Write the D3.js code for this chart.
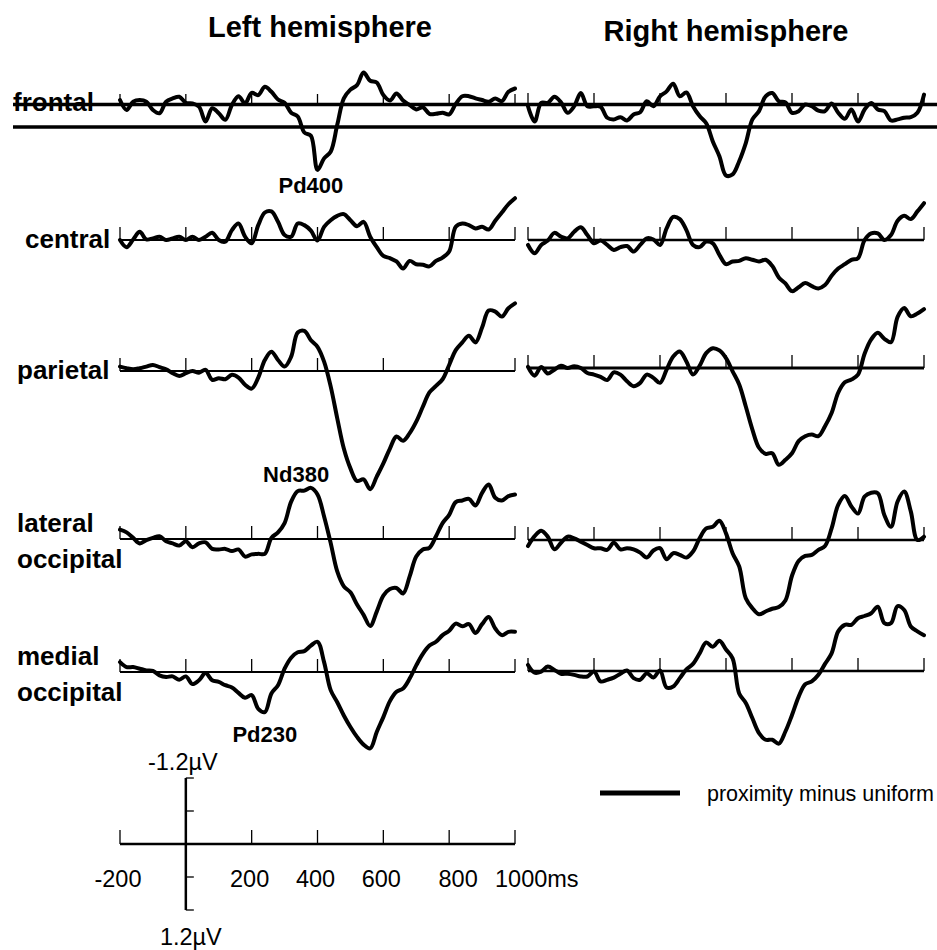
<!DOCTYPE html>
<html>
<head>
<meta charset="utf-8">
<script src="https://cdn.jsdelivr.net/npm/d3@7"></script>
<style>
  body { margin: 0; background: #fff; }
  svg { display: block; font-family: "Liberation Sans", Arial, sans-serif; }
</style>
</head>
<body>
<svg id="chart" width="937" height="950"></svg>
<script>
/* ERP difference waves, proximity minus uniform, two hemispheres x five sites */
"use strict";

// sample times (ms), one value every 20 ms
const TIMES = d3.range(-200, 1001, 20);

const HEMISPHERES = ["Left hemisphere", "Right hemisphere"];
const REGIONS = [["frontal"], ["central"], ["parietal"], ["lateral", "occipital"], ["medial", "occipital"]];

// amplitudes in µV (negative plotted up)
const LEFT_FRONTAL = [
  -0.09, 0.09, -0.06, -0.09, -0.06, 0.09, 0.15, -0.06, -0.12, -0.15,
  -0.04, -0.03, 0.03, 0.30, 0.06, 0.15, 0.27, 0, -0.16, -0.03,
  -0.22, -0.18, -0.33, -0.24, -0.10, -0.04, 0.14, 0.21, 0.50, 0.56,
  1.18, 0.97, 0.85, 0.36, -0.12, -0.28, -0.36, -0.59, -0.44, -0.41,
  -0.18, -0.08, -0.21, -0.08, 0, 0.08, 0.04, 0.16, 0.16, 0.14,
  0.17, -0.02, -0.16, -0.16, -0.12, -0.09, -0.06, -0.12, -0.07, -0.24,
  -0.30];
const RIGHT_FRONTAL = [
  0.04, 0.32, -0.02, -0.02, -0.13, -0.03, 0.16, 0.04, -0.20, 0.04,
  0.04, 0.05, 0.25, 0.28, 0.24, 0.30, 0.19, 0.15, -0.05, 0.04,
  -0.14, -0.23, -0.37, -0.14, -0.21, 0.04, 0.22, 0.35, 0.68, 0.95,
  1.30, 1.28, 1.04, 0.71, 0.28, 0.13, -0.14, -0.20, -0.05, -0.03,
  0.16, 0.13, 0.01, 0.04, 0.12, 0.13, -0.01, 0.16, 0.27, 0.10,
  0.32, 0.10, -0.02, 0.10, 0.13, 0.30, 0.28, 0.25, 0.24, 0.16,
  -0.17];
const LEFT_CENTRAL = [
  0, 0.13, -0.01, -0.15, -0.01, -0.03, -0.06, 0, -0.03, -0.06,
  0, -0.06, 0, -0.06, -0.13, 0, 0.03, -0.18, -0.30, -0.06,
  0.06, -0.27, -0.50, -0.52, -0.33, -0.09, -0.06, -0.30, -0.27, -0.17,
  0.01, -0.24, -0.36, -0.44, -0.47, -0.36, -0.25, -0.33, -0.06, 0.13,
  0.29, 0.33, 0.39, 0.52, 0.38, 0.44, 0.45, 0.48, 0.38, 0.32,
  0.21, -0.24, -0.30, -0.27, -0.21, -0.24, -0.19, -0.35, -0.50, -0.65,
  -0.76];
const RIGHT_CENTRAL = [
  0.09, 0.24, 0.09, 0.01, -0.13, -0.06, -0.03, -0.15, -0.23, -0.09,
  0.06, 0.01, 0.09, 0.18, 0.13, 0.11, 0.21, 0.09, -0.03, -0.01,
  0.09, -0.21, -0.42, -0.38, -0.18, 0.09, 0.13, 0.03, 0.06, 0.27,
  0.44, 0.39, 0.38, 0.33, 0.36, 0.39, 0.36, 0.47, 0.68, 0.79,
  0.93, 0.86, 0.78, 0.84, 0.88, 0.82, 0.65, 0.52, 0.44, 0.36,
  0.33, 0, -0.12, -0.12, 0, -0.09, -0.35, -0.44, -0.38, -0.52,
  -0.67];
const LEFT_PARIETAL = [
  -0.08, -0.05, -0.03, -0.05, -0.08, -0.11, -0.07, -0.03, 0.04, 0.09,
  0.04, 0, 0.03, -0.02, 0.16, 0.13, 0.15, 0.07, 0.12, 0.25,
  0.32, 0.12, -0.20, -0.35, -0.20, -0.08, -0.26, -0.70, -0.73, -0.56,
  -0.44, -0.17, 0.28, 0.86, 1.41, 1.77, 2.00, 1.97, 2.15, 1.92,
  1.68, 1.41, 1.19, 1.27, 1.13, 0.92, 0.65, 0.39, 0.27, 0.15,
  -0.11, -0.38, -0.52, -0.64, -0.52, -0.79, -1.10, -1.08, -0.99, -1.14,
  -1.23];
const RIGHT_PARIETAL = [
  -0.02, 0.14, -0.02, 0.10, 0.03, -0.04, 0, -0.03, 0, 0.09,
  0.12, 0.16, 0.22, 0.08, 0.12, 0.24, 0.33, 0.27, 0.12, 0.18,
  0.27, 0.03, -0.21, -0.30, -0.12, 0.12, -0.04, -0.27, -0.36, -0.32,
  -0.18, 0.06, 0.30, 0.70, 1.12, 1.45, 1.56, 1.55, 1.76, 1.67,
  1.55, 1.33, 1.24, 1.21, 1.24, 1.06, 0.82, 0.45, 0.26, 0.21,
  0.12, -0.26, -0.52, -0.64, -0.53, -0.47, -0.93, -1.09, -0.94, -0.99,
  -1.07];
const LEFT_LATERAL_OCC = [
  -0.17, -0.12, -0.02, 0.08, 0.02, -0.02, -0.05, 0.04, 0.08, 0.12,
  0.04, 0.15, 0.08, 0.06, 0.18, 0.19, 0.18, 0.22, 0.19, 0.32,
  0.28, 0.27, 0.27, -0.02, -0.12, -0.29, -0.68, -0.87, -0.88, -0.93,
  -0.81, -0.41, 0.07, 0.59, 0.86, 0.97, 1.19, 1.38, 1.58, 1.32,
  1.03, 0.91, 0.89, 0.99, 0.68, 0.32, 0.19, 0.16, -0.05, -0.29,
  -0.44, -0.67, -0.70, -0.73, -0.61, -0.84, -0.99, -0.75, -0.70, -0.78,
  -0.81];
const RIGHT_LATERAL_OCC = [
  0.11, -0.07, -0.17, -0.06, 0.17, 0.05, -0.06, -0.03, 0.03, 0.09,
  0.15, 0.15, 0.18, 0.05, 0.17, 0.15, 0.17, 0.23, 0.32, 0.19,
  0.15, 0.35, 0.24, 0.27, 0.32, 0.21, -0.03, -0.21, -0.24, -0.35,
  -0.12, 0.24, 0.48, 1.06, 1.24, 1.35, 1.30, 1.25, 1.22, 1.10,
  0.65, 0.38, 0.29, 0.27, 0.18, 0.11, -0.21, -0.64, -0.80, -0.61,
  -0.48, -0.79, -0.86, -0.85, -0.45, -0.24, -0.70, -0.88, -0.52, 0,
  -0.06];
const LEFT_MEDIAL_OCC = [
  -0.18, -0.09, -0.09, -0.06, -0.03, -0.02, 0.06, 0.09, 0.08, 0.14,
  0.08, 0.22, 0.15, 0.02, 0.15, 0.18, 0.24, 0.28, 0.38, 0.47,
  0.42, 0.67, 0.73, 0.39, 0.24, -0.06, -0.26, -0.36, -0.38, -0.48,
  -0.55, -0.18, 0.33, 0.55, 0.79, 1.00, 1.18, 1.32, 1.39, 1.09,
  0.82, 0.53, 0.36, 0.30, 0.12, -0.12, -0.33, -0.48, -0.55, -0.67,
  -0.75, -0.88, -0.83, -0.87, -0.71, -0.87, -1.00, -0.79, -0.67, -0.73,
  -0.73];
const RIGHT_MEDIAL_OCC = [
  -0.11, 0.03, 0.01, -0.08, -0.02, 0.05, 0.05, 0.07, 0.10, 0.10,
  0.01, 0.19, 0.16, 0.12, 0.05, -0.01, 0.13, 0.16, 0.04, 0.12,
  -0.01, 0.30, 0.28, 0.13, -0.03, -0.13, -0.32, -0.52, -0.44, -0.55,
  -0.39, -0.23, 0.41, 0.58, 0.86, 1.13, 1.25, 1.25, 1.32, 1.10,
  0.80, 0.47, 0.24, 0.19, 0.07, -0.13, -0.32, -0.72, -0.84, -0.84,
  -0.96, -1.00, -1.05, -1.17, -0.87, -0.87, -1.18, -1.11, -0.81, -0.72,
  -0.65];

const WAVES = [
  [LEFT_FRONTAL, RIGHT_FRONTAL],
  [LEFT_CENTRAL, RIGHT_CENTRAL],
  [LEFT_PARIETAL, RIGHT_PARIETAL],
  [LEFT_LATERAL_OCC, RIGHT_LATERAL_OCC],
  [LEFT_MEDIAL_OCC, RIGHT_MEDIAL_OCC]
];

const TICK_MS = [-200, 0, 200, 400, 600, 800, 1000];
const SCALE_MS_LABELS = [["-200", -200], ["200", 200], ["400", 400], ["600", 600], ["800", 800], ["1000ms", 1000]];
const SCALE_UV = [-1.2, -0.6, 0.6, 1.2];
const PEAKS = [["Pd400", 0, 380], ["Nd380", 3, 335], ["Pd230", 4, 240]];
const LEGEND_LABEL = "proximity minus uniform";

/* layout */
const svg = d3.select("#chart");
const xPanel = [
  d3.scaleLinear([-200, 1000], [120, 515]),
  d3.scaleLinear([-200, 1000], [528, 924])
];
const rowY = [[105, 240, 371, 539, 672], [104, 240, 368, 540, 671]];
const axisW = [[2, 2, 2, 2, 2], [2.5, 2.5, 3, 2.5, 2.5]];
const uv = d3.scaleLinear([-1.2, 1.2], [-66, 66]);
const TRACE_W = 4;
const TICK_H = 13;

const line = d3.line()
  .curve(d3.curveCatmullRom.alpha(0.5));

/* frontal band lines (scan artefact in the original) */
svg.selectAll("line.band")
  .data([104.5, 127])
  .join("line")
  .attr("x1", 13).attr("x2", 937)
  .attr("y1", (d) => d).attr("y2", (d) => d)
  .attr("stroke", "#000").attr("stroke-width", 3.5);

/* titles */
svg.selectAll("text.title")
  .data(HEMISPHERES)
  .join("text")
  .attr("x", (d, i) => [320, 726][i])
  .attr("y", (d, i) => [37, 41][i])
  .attr("text-anchor", "middle")
  .attr("font-weight", "bold")
  .attr("font-size", 29)
  .text((d) => d);

/* row labels */
REGIONS.forEach((lines, r) => {
  const base = rowY[0][r];
  const t = svg.append("text")
    .attr("font-weight", "bold")
    .attr("font-size", 26);
  if (lines.length === 1) {
    t.append("tspan").attr("x", r === 0 ? 13 : r === 1 ? 25 : 17).attr("y", base + (r === 0 ? 6 : 8)).text(lines[0]);
  } else {
    t.append("tspan").attr("x", 17).attr("y", base - 7).text(lines[0]);
    t.append("tspan").attr("x", 17).attr("y", base + 29).text(lines[1]);
  }
});

/* panels */
WAVES.forEach((pair, r) => {
  pair.forEach((values, h) => {
    const x = xPanel[h];
    const y0 = rowY[h][r];
    const g = svg.append("g");

    if (r !== 0) {
      g.append("line")
        .attr("x1", x(-200)).attr("x2", x(1000))
        .attr("y1", y0).attr("y2", y0)
        .attr("stroke", "#000").attr("stroke-width", axisW[h][r]);
    }
    g.selectAll("line.tick")
      .data(TICK_MS)
      .join("line")
      .attr("x1", (d) => x(d)).attr("x2", (d) => x(d))
      .attr("y1", y0).attr("y2", y0 - (r === 0 ? 11 : TICK_H))
      .attr("stroke", "#000").attr("stroke-width", 1.3);

    g.append("path")
      .datum(values.map((v, i) => [x(TIMES[i]), y0 + uv(v)]))
      .attr("d", line)
      .attr("fill", "none")
      .attr("stroke", "#000")
      .attr("stroke-width", TRACE_W)
      .attr("stroke-linejoin", "round")
      .attr("stroke-linecap", "round");
  });
});

/* component labels */
svg.selectAll("text.peak")
  .data(PEAKS)
  .join("text")
  .attr("x", (d) => xPanel[0](d[2]))
  .attr("y", (d) => rowY[0][d[1]] + [88, 0, 0, -57, 70][d[1]])
  .attr("text-anchor", "middle")
  .attr("font-weight", "bold")
  .attr("font-size", 22)
  .text((d) => d[0]);

/* calibration axes */
const xs = xPanel[0];
const yS = 844;
const cal = svg.append("g");
cal.append("line")
  .attr("x1", xs(-200)).attr("x2", xs(1000))
  .attr("y1", yS).attr("y2", yS)
  .attr("stroke", "#000").attr("stroke-width", 2.5);
cal.selectAll("line.tick")
  .data(TICK_MS.filter((d) => d !== 0))
  .join("line")
  .attr("x1", (d) => xs(d)).attr("x2", (d) => xs(d))
  .attr("y1", yS).attr("y2", yS - 14)
  .attr("stroke", "#000").attr("stroke-width", 1.3);
cal.append("line")
  .attr("x1", xs(0)).attr("x2", xs(0))
  .attr("y1", yS + uv(-1.2)).attr("y2", yS + uv(1.2))
  .attr("stroke", "#000").attr("stroke-width", 2.5);
cal.selectAll("line.vtick")
  .data(SCALE_UV)
  .join("line")
  .attr("x1", xs(0)).attr("x2", xs(0) + 8)
  .attr("y1", (d) => yS + uv(d)).attr("y2", (d) => yS + uv(d))
  .attr("stroke", "#000").attr("stroke-width", 1.3);

cal.selectAll("text.ms")
  .data(SCALE_MS_LABELS)
  .join("text")
  .attr("x", (d) => (d[1] === 1000 ? xs(d[1]) - 20 : xs(d[1]) + (d[1] === 800 ? 9 : -2)))
  .attr("y", 887)
  .attr("text-anchor", (d) => (d[1] === 1000 ? "start" : "middle"))
  .attr("font-size", 23.5)
  .text((d) => d[0]);

cal.selectAll("text.uv")
  .data([[-1.2, "-1.2\u00b5V", 770], [1.2, "1.2\u00b5V", 945]])
  .join("text")
  .attr("x", (d) => xs(0) - (d[0] < 0 ? 3 : -5))
  .attr("y", (d) => d[2])
  .attr("text-anchor", "middle")
  .attr("font-size", 23.5)
  .text((d) => d[1]);

/* legend */
const leg = svg.append("g");
leg.append("line")
  .attr("x1", 600).attr("x2", 680)
  .attr("y1", 793).attr("y2", 793)
  .attr("stroke", "#000").attr("stroke-width", 5);
leg.append("text")
  .attr("x", 707).attr("y", 801)
  .attr("font-size", 21.5)
  .text(LEGEND_LABEL);
</script>
</body>
</html>
